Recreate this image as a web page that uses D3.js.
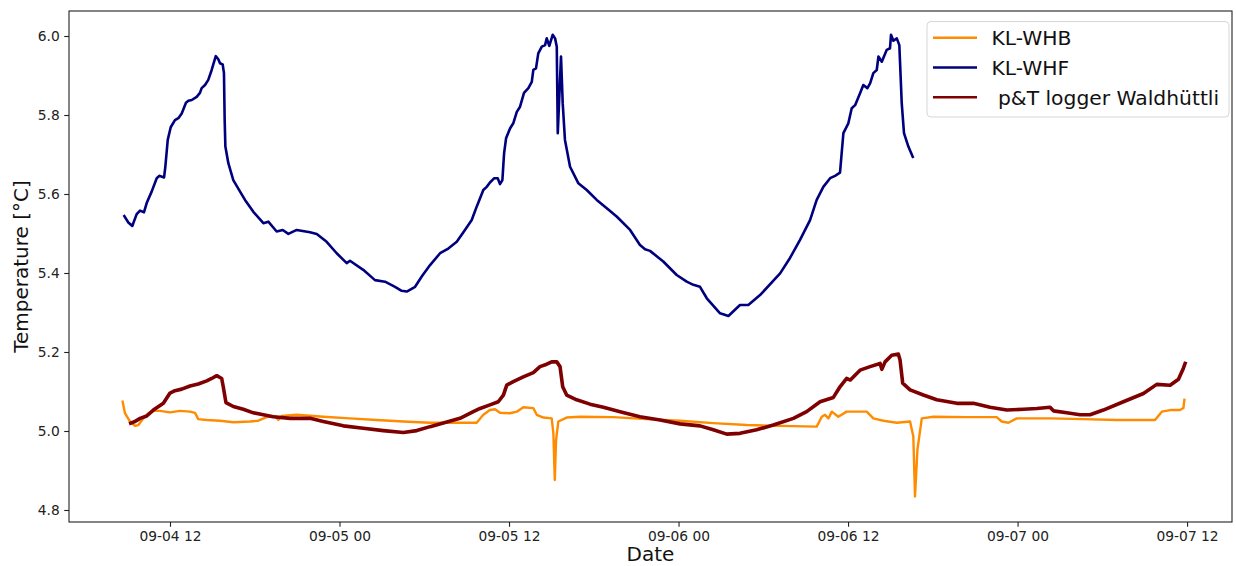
<!DOCTYPE html>
<html>
<head>
<meta charset="utf-8">
<script src="https://cdn.jsdelivr.net/npm/d3@7"></script>
<style>
  html, body { margin: 0; padding: 0; background: #fff; }
  svg { display: block; font-family: "DejaVu Sans", sans-serif; }
</style>
</head>
<body>
<svg id="chart" width="1236" height="566"></svg>
<script>
// ---- Data (hours since 2023-09-04 00:00 UTC, temperature in °C) ----
const seriesNames = ["KL-WHB", "KL-WHF", " p&T logger Waldhüttli"];
const seriesColors = ["#ff8c00", "#00007f", "#7f0000"];

const whbHours = [8.65,8.81,9.17,9.52,9.76,10.11,10.46,10.82,11.29,12.00,12.71,13.42,13.77,14.00,14.60,15.54,16.48,17.66,18.25,18.85,19.43,19.67,19.91,20.97,22.85,24.74,26.63,28.52,30.41,32.30,33.71,34.18,34.65,35.01,35.36,36.07,36.55,37.01,37.72,37.96,38.43,39.02,39.14,39.24,39.33,39.49,40.08,41.03,43.38,45.75,48.11,50.46,52.83,55.19,57.78,58.14,58.37,58.61,58.85,59.31,59.90,61.32,61.79,62.50,63.45,64.39,64.62,64.74,64.91,65.22,66.04,68.40,70.52,70.88,71.35,71.94,74.30,76.66,79.02,81.73,82.21,82.80,83.50,83.74,83.81];
const whbTemp = [5.074,5.045,5.024,5.013,5.015,5.032,5.045,5.051,5.051,5.047,5.051,5.049,5.046,5.030,5.028,5.026,5.022,5.024,5.026,5.035,5.038,5.028,5.038,5.041,5.036,5.032,5.028,5.024,5.021,5.021,5.021,5.041,5.053,5.055,5.046,5.045,5.049,5.060,5.058,5.041,5.034,5.032,4.994,4.876,4.977,5.024,5.034,5.036,5.035,5.030,5.026,5.020,5.015,5.013,5.011,5.036,5.041,5.032,5.049,5.036,5.049,5.049,5.032,5.026,5.021,5.024,4.986,4.834,4.952,5.032,5.036,5.035,5.035,5.024,5.021,5.032,5.032,5.030,5.028,5.028,5.049,5.053,5.053,5.058,5.079];

const whfHours = [8.77,9.05,9.33,9.64,9.88,10.16,10.35,10.70,11.06,11.24,11.58,11.67,11.84,12.05,12.35,12.59,12.83,13.13,13.30,13.54,13.89,14.12,14.24,14.48,14.71,14.95,15.24,15.42,15.54,15.73,15.82,15.87,15.92,16.13,16.48,16.96,17.31,17.90,18.61,18.96,19.55,19.98,20.38,20.97,21.91,22.39,23.09,23.80,24.51,24.74,25.68,26.51,27.22,27.93,28.40,28.76,29.35,29.82,30.41,31.12,31.70,32.30,32.88,33.36,33.71,33.95,34.18,34.42,34.65,34.96,35.20,35.36,35.53,35.65,35.79,36.07,36.30,36.55,36.78,37.06,37.37,37.61,37.72,37.91,38.07,38.32,38.55,38.67,38.85,39.09,39.26,39.38,39.45,39.68,39.80,39.96,40.32,40.91,41.50,42.21,42.92,43.62,44.57,45.27,45.63,45.98,46.92,47.87,48.58,49.05,49.52,50.00,50.94,51.53,52.35,52.94,53.77,55.19,55.89,56.60,57.31,57.78,58.25,58.73,59.08,59.43,59.67,60.02,60.26,60.50,60.85,61.08,61.37,61.56,61.79,62.03,62.15,62.39,62.74,62.97,63.04,63.21,63.45,63.63,63.80,63.96,64.27,64.58];
const whfTemp = [5.544,5.528,5.519,5.549,5.558,5.554,5.577,5.606,5.640,5.646,5.642,5.669,5.737,5.769,5.787,5.792,5.804,5.831,5.836,5.838,5.846,5.856,5.868,5.876,5.889,5.914,5.949,5.941,5.931,5.928,5.906,5.787,5.720,5.678,5.635,5.606,5.585,5.555,5.526,5.530,5.505,5.509,5.499,5.509,5.503,5.499,5.479,5.450,5.425,5.431,5.408,5.382,5.378,5.365,5.355,5.353,5.365,5.391,5.420,5.450,5.462,5.479,5.509,5.534,5.568,5.589,5.610,5.618,5.629,5.640,5.640,5.625,5.635,5.703,5.741,5.766,5.779,5.808,5.821,5.856,5.868,5.884,5.914,5.918,5.956,5.973,5.977,5.994,5.975,6.003,5.994,5.973,5.754,5.948,5.830,5.737,5.669,5.627,5.610,5.585,5.564,5.543,5.509,5.471,5.460,5.456,5.429,5.395,5.378,5.370,5.365,5.336,5.298,5.291,5.319,5.319,5.344,5.399,5.438,5.484,5.534,5.585,5.618,5.640,5.646,5.654,5.754,5.779,5.817,5.825,5.855,5.876,5.868,5.880,5.906,5.914,5.948,5.935,5.965,5.969,6.003,5.988,5.994,5.977,5.830,5.754,5.720,5.694];

const ptHours = [9.22,9.52,9.88,10.35,10.82,11.53,12.00,12.35,12.83,13.42,14.00,14.60,14.95,15.31,15.66,15.77,15.96,16.48,17.19,17.90,18.61,19.31,20.50,21.91,22.85,24.27,25.68,27.10,28.52,29.47,30.41,31.35,32.53,33.47,33.95,34.65,35.24,35.60,35.84,36.30,37.01,37.72,38.19,38.67,39.02,39.38,39.61,39.80,40.08,40.79,41.73,42.68,43.86,45.27,46.69,48.11,49.52,50.46,51.41,52.35,53.53,54.71,56.13,57.07,58.02,58.96,59.43,59.90,60.16,60.85,61.56,62.27,62.39,62.62,63.09,63.56,63.68,63.87,64.39,65.33,66.28,67.70,68.87,70.05,71.24,72.41,73.36,74.30,74.54,75.48,76.42,77.13,78.07,79.49,80.91,81.85,82.80,83.39,83.74,83.86];
const ptTemp = [5.020,5.024,5.032,5.038,5.053,5.070,5.096,5.102,5.106,5.114,5.119,5.127,5.133,5.140,5.133,5.112,5.072,5.062,5.055,5.046,5.041,5.036,5.032,5.032,5.024,5.013,5.007,5.001,4.996,5.001,5.011,5.020,5.032,5.049,5.057,5.066,5.074,5.091,5.116,5.125,5.137,5.148,5.163,5.169,5.175,5.175,5.163,5.112,5.091,5.079,5.068,5.060,5.049,5.036,5.028,5.018,5.013,5.003,4.992,4.994,5.003,5.015,5.032,5.049,5.074,5.085,5.112,5.133,5.129,5.154,5.163,5.171,5.156,5.175,5.192,5.195,5.180,5.121,5.104,5.091,5.079,5.070,5.070,5.060,5.053,5.055,5.057,5.060,5.051,5.046,5.041,5.041,5.053,5.074,5.095,5.118,5.116,5.131,5.159,5.171];

const yTicks = [4.8, 5.0, 5.2, 5.4, 5.6, 5.8, 6.0];

// ---- Layout ----
const W = 1236, H = 566;
const plot = { left: 69, right: 1232, top: 11, bottom: 522 };
const base = Date.UTC(2023, 8, 4, 0, 0, 0);
const toDate = h => new Date(base + h * 3600 * 1000);

const x = d3.scaleUtc()
  .domain([toDate(4.85), toDate(87.18)])
  .range([plot.left, plot.right]);
const y = d3.scaleLinear()
  .domain([4.7696, 6.0633])
  .range([plot.bottom, plot.top]);

const svg = d3.select("#chart");

const series = [
  { hours: whbHours, temp: whbTemp, width: 2.4 },
  { hours: whfHours, temp: whfTemp, width: 2.6 },
  { hours: ptHours, temp: ptTemp, width: 3.6 }
];

const line = d3.line().x(d => x(d[0])).y(d => y(d[1]));

const g = svg.append("g");
series.forEach((s, i) => {
  const pts = s.hours.map((h, k) => [toDate(h), s.temp[k]]);
  g.append("path")
    .datum(pts)
    .attr("fill", "none")
    .attr("stroke", seriesColors[i])
    .attr("stroke-width", s.width)
    .attr("stroke-linejoin", "round")
    .attr("stroke-linecap", "square")
    .attr("d", line);
});

// ---- Axes ----
const xAxis = d3.axisBottom(x)
  .ticks(d3.utcHour.every(12))
  .tickFormat(d3.utcFormat("%m-%d %H"))
  .tickSize(4.8)
  .tickPadding(4.5);
const yAxis = d3.axisLeft(y)
  .tickValues(yTicks)
  .tickFormat(d3.format(".1f"))
  .tickSize(4.8)
  .tickPadding(4.5);

const gx = svg.append("g").attr("transform", `translate(0,${plot.bottom})`).call(xAxis);
const gy = svg.append("g").attr("transform", `translate(${plot.left},0)`).call(yAxis);
[gx, gy].forEach(a => {
  a.select(".domain").remove();
  a.selectAll(".tick line").attr("stroke", "#222").attr("stroke-width", 1.1);
  a.selectAll(".tick text").attr("fill", "#222").style("font-size", "13.8px").style("font-family", "DejaVu Sans");
});

// frame
svg.append("rect")
  .attr("x", plot.left).attr("y", plot.top)
  .attr("width", plot.right - plot.left).attr("height", plot.bottom - plot.top)
  .attr("fill", "none").attr("stroke", "#222").attr("stroke-width", 1.1);

// axis labels
svg.append("text")
  .attr("x", (plot.left + plot.right) / 2).attr("y", 561)
  .attr("text-anchor", "middle")
  .style("font-size", "20px").attr("fill", "#111")
  .text("Date");
svg.append("text")
  .attr("transform", `translate(28,${(plot.top + plot.bottom) / 2}) rotate(-90)`)
  .attr("text-anchor", "middle")
  .style("font-size", "20px").attr("fill", "#111")
  .text("Temperature [°C]");

// ---- Legend ----
const lg = svg.append("g");
lg.append("rect")
  .attr("x", 927).attr("y", 21.5).attr("width", 302).attr("height", 95.5)
  .attr("rx", 4).attr("ry", 4)
  .attr("fill", "#fff").attr("fill-opacity", 0.8)
  .attr("stroke", "#d6d6d6").attr("stroke-width", 1);
seriesNames.forEach((name, i) => {
  const ly = 37.7 + i * 29.8;
  lg.append("line")
    .attr("x1", 933).attr("x2", 977).attr("y1", ly).attr("y2", ly)
    .attr("stroke", seriesColors[i]).attr("stroke-width", 2.6);
  lg.append("text")
    .attr("x", 991.5).attr("y", ly + 7.3)
    .style("font-size", "20.3px").style("white-space", "pre")
    .attr("xml:space", "preserve")
    .attr("fill", "#111")
    .text(name);
});
</script>
</body>
</html>
